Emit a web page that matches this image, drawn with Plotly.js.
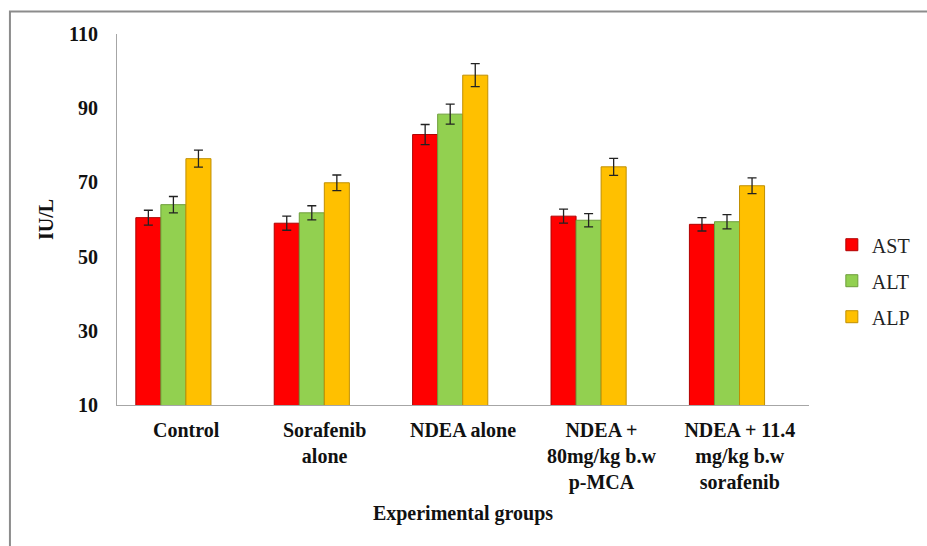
<!DOCTYPE html>
<html>
<head>
<meta charset="utf-8">
<script src="https://cdn.plot.ly/plotly-3.0.1.min.js"></script>
<style>html,body{margin:0;padding:0;background:#fff;}#chart{width:927px;height:546px;}</style>
</head>
<body>
<div id="chart"></div>
<script>
const categories = ["Control", "Sorafenib<br>alone", "NDEA alone", "NDEA +<br>80mg/kg b.w<br>p-MCA", "NDEA + 11.4<br>mg/kg b.w<br>sorafenib"];
const seriesNames = ["AST", "ALT", "ALP"];
const astValues = [60.5, 59.0, 82.9, 60.9, 58.7];
const astErrors = [2.0, 1.9, 2.7, 1.9, 1.8];
const altValues = [64.0, 61.8, 88.4, 59.8, 59.4];
const altErrors = [2.2, 1.9, 2.7, 1.8, 1.9];
const alpValues = [76.4, 69.9, 98.9, 74.2, 69.1];
const alpErrors = [2.3, 2.1, 3.1, 2.3, 2.1];
const yTicks = [10, 30, 50, 70, 90, 110];

const colors = ["#FF0000", "#92D050", "#FFC000"];
const edge = ["#B00000", "#6E9E3A", "#C08F00"];
const values = [astValues, altValues, alpValues];
const errors = [astErrors, altErrors, alpErrors];
const barW = 0.181;
const startOff = -0.364;

const font = "Liberation Serif, Times New Roman, serif";

const traces = seriesNames.map((name, i) => ({
  type: "bar",
  name: name,
  x: categories,
  y: values[i],
  width: barW,
  offset: startOff + i * barW,
  legendgroup: name,
  marker: {color: colors[i], line: {color: edge[i], width: 1}},
  error_y: {type: "data", array: errors[i], visible: true, color: "#222", thickness: 1.3, width: 4.5}
}));

const layout = {
  width: 927, height: 546,
  margin: {l: 117, r: 99, t: 33.5, b: 140.5},
  paper_bgcolor: "#fff", plot_bgcolor: "#fff",
  barmode: "overlay",
  showlegend: true,
  legend: {
    x: 1.033, xanchor: "left", y: 0.335, yanchor: "middle",
    font: {family: font, size: 20, color: "#222"},
    traceorder: "grouped", tracegroupgap: 7,
    itemwidth: 30
  },
  xaxis: {
    type: "category",
    range: [-0.5, 4.5],
    showline: true, linecolor: "#A6A6A6", linewidth: 1,
    ticks: "", showgrid: false, zeroline: false,
    tickfont: {family: font, size: 20, color: "#111", weight: "bold"},
    ticklabelstandoff: 7,
    title: {text: "Experimental groups", font: {family: font, size: 20, color: "#111", weight: "bold"}, standoff: 12}
  },
  yaxis: {
    range: [10, 110],
    tickvals: yTicks,
    ticktext: yTicks.map(String),
    showline: true, linecolor: "#A6A6A6", linewidth: 1,
    ticks: "", showgrid: false, zeroline: false,
    tickfont: {family: font, size: 20, color: "#111", weight: "bold"},
    ticklabelstandoff: 14,
    title: {text: "IU/L", font: {family: font, size: 20, color: "#111", weight: "bold"}, standoff: 10}
  },
  shapes: [{
    type: "rect", xref: "paper", yref: "paper",
    x0: (7 - 117) / 711, x1: 1.2,
    y0: -0.5, y1: (405.5 - 11) / 372,
    line: {color: "#8C8C8C", width: 2}, fillcolor: "rgba(0,0,0,0)", layer: "below"
  }]
};

Plotly.newPlot("chart", traces, layout, {displayModeBar: false, staticPlot: true});
</script>
</body>
</html>
